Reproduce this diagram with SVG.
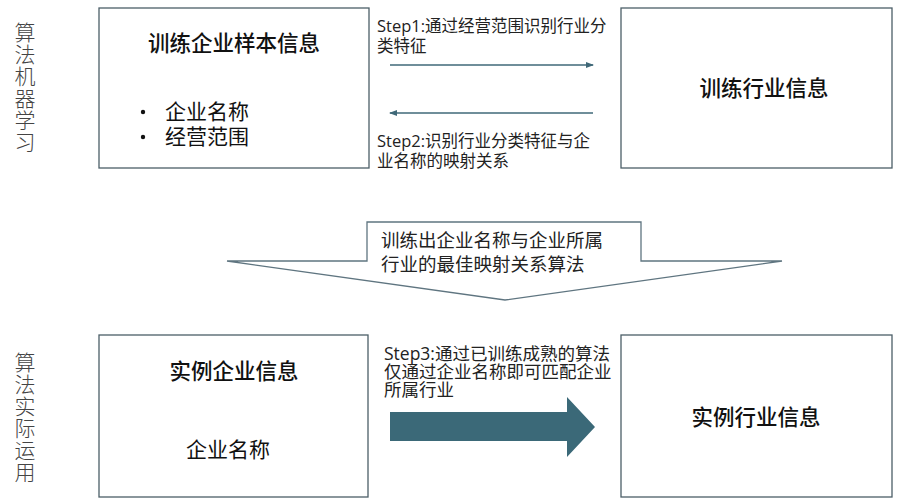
<svg xmlns="http://www.w3.org/2000/svg" width="911" height="500" viewBox="0 0 911 500">
<defs>
<style>
.box{fill:#fff;stroke:#4c5f68;stroke-width:1.3}
.t{font-family:"Noto Sans CJK SC","Noto Sans",sans-serif;fill:#111}
.title{font-size:21.5px;font-weight:500;text-anchor:middle}
.body{font-size:21px}
.side{font-family:"Noto Sans CJK SC",sans-serif;font-size:21px;fill:#444;font-weight:300;writing-mode:vertical-rl;letter-spacing:1px}
.step{font-family:"Open Sans","Noto Sans CJK SC",sans-serif;font-size:16.5px;fill:#222}
.step3{font-size:17.5px}
.down{font-size:18.5px;fill:#222}
.line{stroke:#3f6878;stroke-width:1.3;fill:none}
</style>
<marker id="ah" markerWidth="8" markerHeight="8" refX="7" refY="4" orient="auto" markerUnits="userSpaceOnUse">
<path d="M0,1 L8,4 L0,7 Z" fill="#3f6878"/>
</marker>
</defs>
<rect width="911" height="500" fill="#fff"/>
<g id="label-train">
<text class="side" x="25" y="22">算法机器学习</text>
</g>
<g id="label-apply">
<text class="side" x="25" y="352">算法实际运用</text>
</g>
<g id="box-train-sample">
<rect class="box" x="99" y="8" width="270" height="160"/>
<text class="t title" x="234" y="51">训练企业样本信息</text>
<circle cx="143" cy="112" r="2.2" fill="#111"/>
<circle cx="143" cy="137" r="2.2" fill="#111"/>
<text class="t body"><tspan x="165" y="119">企业名称</tspan><tspan x="165" y="144">经营范围</tspan></text>
</g>
<g id="box-train-industry">
<rect class="box" x="621" y="8" width="271" height="160"/>
<text class="t title" x="764" y="96">训练行业信息</text>
</g>
<g id="box-instance-company">
<rect class="box" x="99" y="335" width="269" height="162"/>
<text class="t title" x="234" y="379">实例企业信息</text>
<text class="t body" x="228" y="457" text-anchor="middle">企业名称</text>
</g>
<g id="box-instance-industry">
<rect class="box" x="621" y="335" width="271" height="162"/>
<text class="t title" x="756" y="425">实例行业信息</text>
</g>
<g id="connectors">
<line class="line" x1="390" y1="65" x2="593" y2="65" marker-end="url(#ah)"/>
<line class="line" x1="593" y1="113" x2="390" y2="113" marker-end="url(#ah)"/>
<path d="M367,222 L641,222 L641,261 L782,261 L505,300 L227,261 L367,261 Z" fill="#fff" stroke="#5f7580" stroke-width="1.3"/>
<path d="M390,412 L567,412 L567,397 L595,427 L567,457 L567,441 L390,441 Z" fill="#3b6978"/>
</g>
<g id="labels">
<text class="step"><tspan x="377" y="32">Step1:通过经营范围识别行业分</tspan><tspan x="377" y="52">类特征</tspan></text>
<text class="step"><tspan x="377" y="147">Step2:识别行业分类特征与企</tspan><tspan x="377" y="167">业名称的映射关系</tspan></text>
<text class="t down"><tspan x="381" y="247">训练出企业名称与企业所属</tspan><tspan x="381" y="271">行业的最佳映射关系算法</tspan></text>
<text class="step step3"><tspan x="384" y="360">Step3:通过已训练成熟的算法</tspan><tspan x="384" y="378">仅通过企业名称即可匹配企业</tspan><tspan x="384" y="396">所属行业</tspan></text>
</g>
</svg>
